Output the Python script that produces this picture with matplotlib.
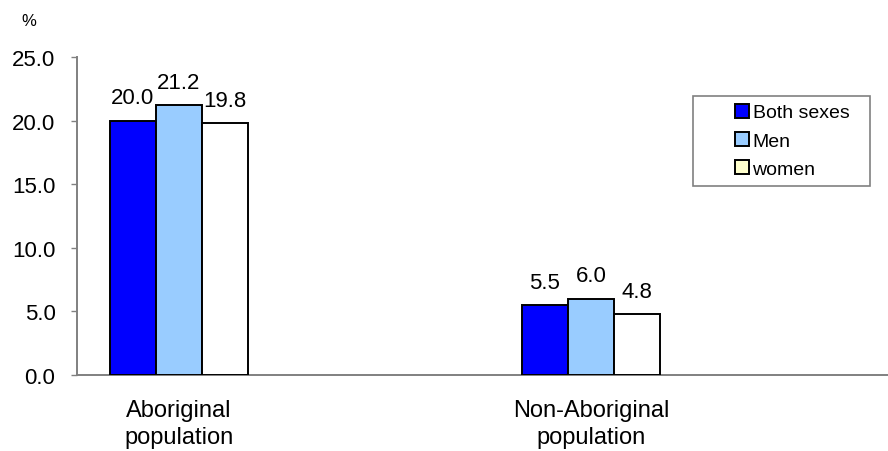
import matplotlib
matplotlib.use("Agg")
import matplotlib.pyplot as plt
from matplotlib.patches import Patch, Rectangle
import numpy as np

plt.rcParams['font.family'] = ['Liberation Sans', 'DejaVu Sans']

categories = ["Aboriginal\npopulation", "Non-Aboriginal\npopulation"]
series_names = ["Both sexes", "Men", "women"]
both_sexes = [20.0, 5.5]
men = [21.2, 6.0]
women = [19.8, 4.8]
yticks = [0.0, 5.0, 10.0, 15.0, 20.0, 25.0]

bar_colors = ["#0000FF", "#99CCFF", "#FFFFFF"]
legend_colors = ["#0000FF", "#99CCFF", "#FFFFCC"]

W, H = 888, 452
fig = plt.figure(figsize=(W/100, H/100), dpi=100)
ax = fig.add_axes([77/W, (H-376)/H, 1 - 77/W, (376-58)/H])

x = np.arange(len(categories))
w = 0.1117
for i, (vals, c) in enumerate(zip([both_sexes, men, women], bar_colors)):
    pos = x + (i - 1) * w
    bars = ax.bar(pos, vals, width=w, color=c, edgecolor="black", linewidth=1.4, zorder=3)
    for b, v in zip(bars, vals):
        ax.annotate(f"{v:.1f}", (b.get_x() + b.get_width()/2, v), xytext=(0, 12.5),
                    textcoords="offset points", ha="center", va="baseline", fontsize=16)

ax.set_xlim(-102/412, (W-179)/412)
ax.set_ylim(0, 25)
ax.set_yticks(yticks)
ax.set_yticklabels([f"{t:.1f}" for t in yticks], fontsize=16)
ax.set_xticks(x)
ax.set_xticklabels(categories, fontsize=17, linespacing=1.3)
ax.tick_params(axis="x", length=0, pad=17)
ax.tick_params(axis="y", length=4.5, width=1, color="#808080", pad=11, direction="out")
for s in ["top", "right"]:
    ax.spines[s].set_visible(False)
for s in ["left", "bottom"]:
    ax.spines[s].set_color("#808080")
    ax.spines[s].set_linewidth(1.4)

fig.text(29/W, 1 - 22/H, "%", ha="center", va="center", fontsize=12)

# legend frame
fig.patches.append(Rectangle((693/W, 1 - 187/H), (870-693)/W, (187-97)/H,
                             transform=fig.transFigure, facecolor="white",
                             edgecolor="#808080", linewidth=1.2, zorder=4))
handles = [Patch(facecolor=c, edgecolor="black", linewidth=1.4, label=n)
           for c, n in zip(legend_colors, series_names)]
leg = fig.legend(handles=handles, loc="center left",
                 bbox_to_anchor=(735/W, 1 - 142/H), bbox_transform=fig.transFigure,
                 frameon=False, fontsize=14, handlelength=0.7,
                 handleheight=0.7, handletextpad=0.2, labelspacing=0.55,
                 borderpad=0, borderaxespad=0)
leg.set_zorder(5)
fig.savefig("out.png", dpi=100)
